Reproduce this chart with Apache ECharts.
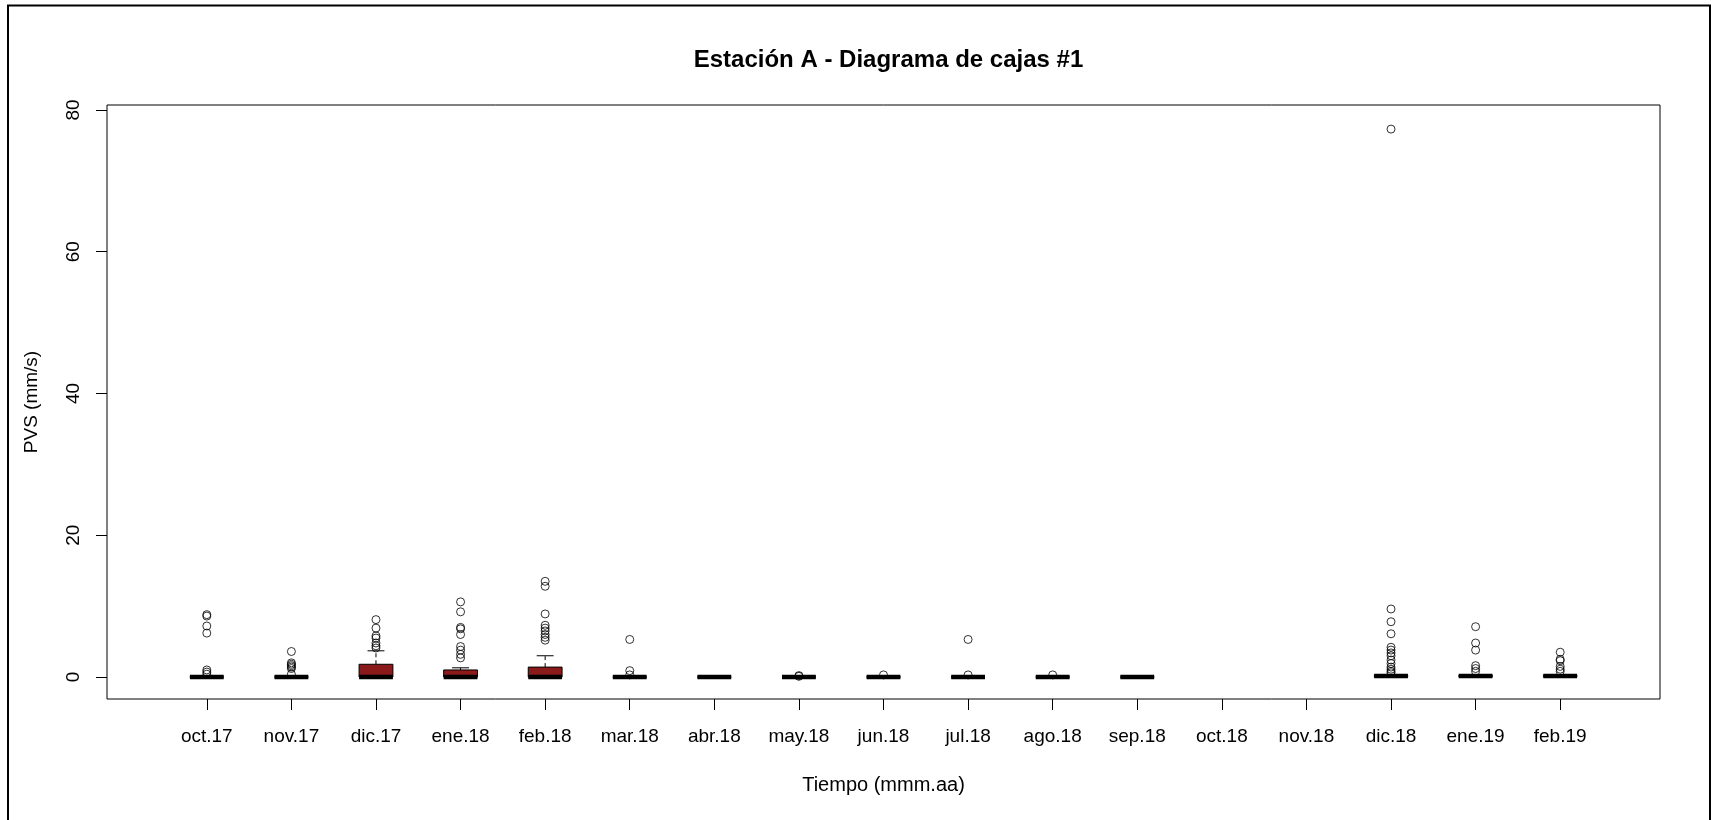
<!DOCTYPE html>
<html>
<head>
<meta charset="utf-8">
<script src="https://cdn.jsdelivr.net/npm/echarts@6/dist/echarts.min.js"></script>
<style>
html,body{margin:0;padding:0;background:#fff;}
#chart{width:1711px;height:820px;}
</style>
</head>
<body>
<div id="chart"></div>
<script>
// ---- data ----
const categories = ['oct.17','nov.17','dic.17','ene.18','feb.18','mar.18','abr.18','may.18','jun.18','jul.18','ago.18','sep.18','oct.18','nov.18','dic.18','ene.19','feb.19'];
// [whisker low, Q1, median, Q3, whisker high]; null = no data
const boxStats = [
  [0,0,0,0,0],
  [0,0,0,0,0],
  [0,0,0,1.8,3.7],
  [0,0,0,1.0,1.3],
  [0,0,0,1.4,3.0],
  [0,0,0,0,0],
  [0,0,0,0,0],
  [0,0,0,0,0],
  [0,0,0,0,0],
  [0,0,0,0,0],
  [0,0,0,0,0],
  [0,0,0,0,0],
  null,
  null,
  [0.1,0.1,0.15,0.2,0.3],
  [0.1,0.1,0.15,0.2,0.3],
  [0.1,0.1,0.15,0.2,0.3]
];
const outliers = [
  [8.8, 8.6, 7.2, 6.2, 1.0, 0.7, 0.4],
  [3.6, 2.0, 1.8, 1.6, 1.4, 1.2, 0.4],
  [8.1, 6.9, 5.8, 5.5, 4.8, 4.4, 4.1],
  [10.6, 9.2, 7.0, 6.8, 6.0, 4.3, 3.8, 3.2, 2.7],
  [13.5, 12.8, 8.9, 7.3, 6.9, 6.5, 6.0, 5.6, 5.2],
  [5.3, 0.9, 0.3],
  [],
  [0.2, 0.1],
  [0.3],
  [5.3, 0.3],
  [0.3],
  [],
  [],
  [],
  [77.3, 9.6, 7.8, 6.1, 4.2, 3.8, 3.4, 3.0, 2.4, 1.9, 1.4, 1.1, 0.8, 0.6],
  [7.1, 4.8, 3.8, 1.6, 1.2, 0.8],
  [3.5, 2.5, 2.3, 1.5, 1.1, 0.8]
];
const yTicks = [0, 20, 40, 60, 80];
const xTicks = categories.map((c, i) => i + 1);

// ---- build series data ----
const boxData = [];
boxStats.forEach((b, i) => { if (b) boxData.push([i + 1].concat(b)); });
const outData = [];
outliers.forEach((arr, i) => arr.forEach(v => outData.push([i + 1, v])));

const FONT = '"Liberation Sans", Arial, sans-serif';

function renderBox(params, api) {
  const x = api.value(0);
  const mn = api.value(1), q1 = api.value(2), md = api.value(3), q3 = api.value(4), mx = api.value(5);
  const bw = api.size([0.4, 0])[0];
  const half = bw / 2;
  const pMin = api.coord([x, mn]), pQ1 = api.coord([x, q1]), pMed = api.coord([x, md]);
  const pQ3 = api.coord([x, q3]), pMax = api.coord([x, mx]);
  const cx = pMed[0];
  const dash = { stroke: '#000', lineWidth: 1, lineDash: [4, 3] };
  const solid = { stroke: '#000', lineWidth: 1 };
  return {
    type: 'group',
    children: [
      { type: 'line', shape: { x1: cx, y1: pQ3[1], x2: cx, y2: pMax[1] }, style: dash },
      { type: 'line', shape: { x1: cx, y1: pQ1[1], x2: cx, y2: pMin[1] }, style: dash },
      { type: 'line', shape: { x1: cx - half / 2, y1: pMax[1], x2: cx + half / 2, y2: pMax[1] }, style: solid },
      { type: 'line', shape: { x1: cx - half / 2, y1: pMin[1], x2: cx + half / 2, y2: pMin[1] }, style: solid },
      { type: 'rect', shape: { x: cx - half, y: pQ3[1], width: bw, height: pQ1[1] - pQ3[1] },
        style: { fill: '#8B1A1A', stroke: '#000', lineWidth: 1 } },
      { type: 'line', shape: { x1: cx - half, y1: pMed[1], x2: cx + half, y2: pMed[1] },
        style: { stroke: '#000', lineWidth: 4.5 } }
    ]
  };
}

const chart = echarts.init(document.getElementById('chart'), null, { renderer: 'canvas' });
chart.setOption({
  backgroundColor: '#fff',
  animation: false,
  title: {
    text: 'Estación A - Diagrama de cajas #1',
    left: 883.5,
    textAlign: 'center',
    top: 43,
    textStyle: { fontFamily: FONT, fontSize: 24, fontWeight: 'bold', color: '#000' }
  },
  grid: {
    left: 107, right: 51, top: 105, bottom: 121,
    show: true, borderColor: '#000', borderWidth: 1, backgroundColor: 'transparent'
  },
  xAxis: {
    type: 'value',
    min: -0.18, max: 18.18,
    name: 'Tiempo (mmm.aa)',
    nameLocation: 'middle',
    nameGap: 76,
    nameTextStyle: { fontFamily: FONT, fontSize: 20, color: '#000' },
    axisLine: { show: false, onZero: false },
    axisTick: { show: true, customValues: xTicks, length: 11, lineStyle: { color: '#000', width: 1 } },
    axisLabel: {
      customValues: xTicks,
      formatter: v => categories[Math.round(v) - 1] || '',
      margin: 28,
      fontFamily: FONT, fontSize: 19, color: '#000'
    },
    splitLine: { show: false }
  },
  yAxis: {
    type: 'value',
    min: -3.1, max: 80.7,
    name: 'PVS (mm/s)',
    nameLocation: 'middle',
    nameGap: 66,
    nameTextStyle: { fontFamily: FONT, fontSize: 19, color: '#000' },
    axisLine: { show: false, onZero: false },
    axisTick: { show: true, customValues: yTicks, length: 11, lineStyle: { color: '#000', width: 1 } },
    axisLabel: {
      customValues: yTicks,
      rotate: 90,
      margin: 24,
      fontFamily: FONT, fontSize: 19, color: '#000'
    },
    splitLine: { show: false }
  },
  graphic: [{
    type: 'rect',
    shape: { x: 8, y: 5.5, width: 1702, height: 840 },
    style: { fill: 'none', stroke: '#000', lineWidth: 2 },
    silent: true, z: 100
  }],
  series: [
    {
      type: 'custom',
      renderItem: renderBox,
      data: boxData,
      encode: { x: 0, y: [1, 2, 3, 4, 5] },
      clip: true
    },
    {
      type: 'scatter',
      data: outData,
      symbol: 'circle',
      symbolSize: 8,
      itemStyle: { color: 'rgba(255,255,255,0)', borderColor: '#000', borderWidth: 1 },
      z: 3
    }
  ]
});
</script>
</body>
</html>
